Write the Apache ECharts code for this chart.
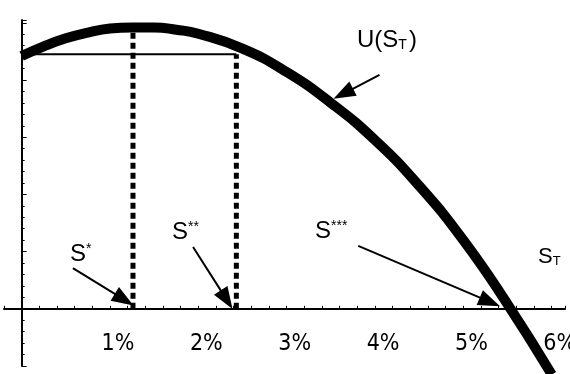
<!DOCTYPE html>
<html>
<head>
<meta charset="utf-8">
<script src="https://cdn.jsdelivr.net/npm/echarts@6/dist/echarts.min.js"></script>
<style>
  html, body { margin: 0; padding: 0; background: #fff; }
  #main { width: 570px; height: 374px; }
</style>
</head>
<body>
<div id="main"></div>
<script>
// S_T in percent, and U(S_T) (arbitrary units)
var sPct = [0, 0.25, 0.5, 0.75, 1, 1.25, 1.5, 1.75, 2, 2.5, 3, 3.5, 4, 4.5, 5, 5.5, 6];
var utility = [4.42, 4.59, 4.73, 4.83, 4.9, 4.92, 4.92, 4.88, 4.81, 4.55, 4.14, 3.6, 2.95, 2.15, 1.2, 0.08, -1.15];

// S* and S** (dotted verticals), level U(0) = U(S**)
var sStar = 1.26;
var sStar2 = 2.43;
var uStar = 4.9;
var uLevel = 4.45;

var xTicks = ['1%', '2%', '3%', '4%', '5%', '6%'];

var chart = echarts.init(document.getElementById('main'), null, { renderer: 'canvas' });

var black = '#000';
var labelFont = "'Liberation Sans Narrow', 'Arial Narrow', 'DejaVu Sans Condensed', sans-serif";
var textFont = "'Liberation Sans', Arial, sans-serif";

function arrow(from, to) {
  return [{ coord: from }, { coord: to }];
}

var option = {
  animation: false,
  grid: {
    left: 4,
    right: 5,
    top: 20,
    bottom: 8,
    containLabel: false,
    outerBoundsMode: 'none'
  },
  xAxis: {
    type: 'value',
    min: -0.2,
    max: 6.15,
    interval: 0.2,
    axisLine: { onZero: true, lineStyle: { color: black, width: 2 } },
    axisTick: { show: true, inside: true, length: 3, lineStyle: { color: black, width: 1 } },
    splitLine: { show: false },
    axisLabel: {
      show: true,
      // labels stay at the grid bottom, so pull them up to the zero line
      margin: -33,
      color: black,
      fontSize: 23,
      fontFamily: labelFont,
      rich: {
        t: { fontSize: 23, fontFamily: labelFont, color: black, padding: [0, 0, 0, 16] }
      },
      formatter: function (v) {
        var n = Number(v);
        var r = Math.round(n);
        if (Math.abs(n - r) < 1e-6 && r >= 1 && r <= xTicks.length) {
          return '{t|' + xTicks[r - 1] + '}';
        }
        return '';
      }
    }
  },
  yAxis: {
    type: 'value',
    min: -1,
    max: 5.05,
    interval: 1,
    axisLine: { show: true, onZero: true, lineStyle: { color: black, width: 2 } },
    axisTick: { show: true, inside: true, length: 5, lineStyle: { color: black, width: 1 } },
    minorTick: { show: true, splitNumber: 5, length: 3, lineStyle: { color: black, width: 1 } },
    splitLine: { show: false },
    axisLabel: { show: false }
  },
  series: [
    {
      name: 'S*',
      type: 'line',
      symbol: 'none',
      z: 2,
      data: [[sStar, 0], [sStar, uStar]],
      lineStyle: { color: black, width: 5, type: [6, 4], cap: 'butt' }
    },
    {
      name: 'S**',
      type: 'line',
      symbol: 'none',
      z: 2,
      data: [[sStar2, 0], [sStar2, uLevel]],
      lineStyle: { color: black, width: 5, type: [6, 4], cap: 'butt' }
    },
    {
      name: 'level',
      type: 'line',
      symbol: 'none',
      z: 2,
      data: [[0, uLevel], [sStar2, uLevel]],
      lineStyle: { color: black, width: 2 },
      markLine: {
        silent: true,
        symbol: ['none', 'triangle'],
        symbolSize: [16, 22],
        label: { show: false },
        lineStyle: { color: black, width: 2, type: 'solid' },
        data: [
          arrow([4.05, 4.09], [3.64, 3.76]),
          arrow([0.58, 0.71], [1.16, 0.16]),
          arrow([1.94, 1.08], [2.32, 0.16]),
          arrow([3.81, 1.1], [5.3, 0.12])
        ]
      }
    },
    {
      name: 'U(S_T)',
      type: 'line',
      symbol: 'none',
      smooth: true,
      clip: false,
      z: 3,
      data: sPct.map(function (s, i) { return [s, utility[i]]; }),
      lineStyle: { color: black, width: 10, cap: 'butt' }
    }
  ],
  graphic: [
    {
      type: 'text', left: 357, top: 28,
      style: {
        text: 'U(S{sub|T})',
        font: '24px ' + textFont, fill: black,
        rich: { sub: { fontSize: 14, fontFamily: textFont, verticalAlign: 'bottom', padding: [0, 2, 0, 0] } }
      }
    },
    {
      type: 'text', left: 70, top: 242,
      style: {
        text: 'S{sup|*}',
        font: '24px ' + textFont, fill: black,
        rich: { sup: { fontSize: 14, fontFamily: textFont, verticalAlign: 'top' } }
      }
    },
    {
      type: 'text', left: 172, top: 220,
      style: {
        text: 'S{sup|**}',
        font: '24px ' + textFont, fill: black,
        rich: { sup: { fontSize: 14, fontFamily: textFont, verticalAlign: 'top' } }
      }
    },
    {
      type: 'text', left: 315, top: 219,
      style: {
        text: 'S{sup|***}',
        font: '24px ' + textFont, fill: black,
        rich: { sup: { fontSize: 14, fontFamily: textFont, verticalAlign: 'top' } }
      }
    },
    {
      type: 'text', left: 538, top: 246,
      style: {
        text: 'S{sub|T}',
        font: '22px ' + textFont, fill: black,
        rich: { sub: { fontSize: 13, fontFamily: textFont, verticalAlign: 'bottom' } }
      }
    }
  ]
};

chart.setOption(option);
</script>
</body>
</html>
